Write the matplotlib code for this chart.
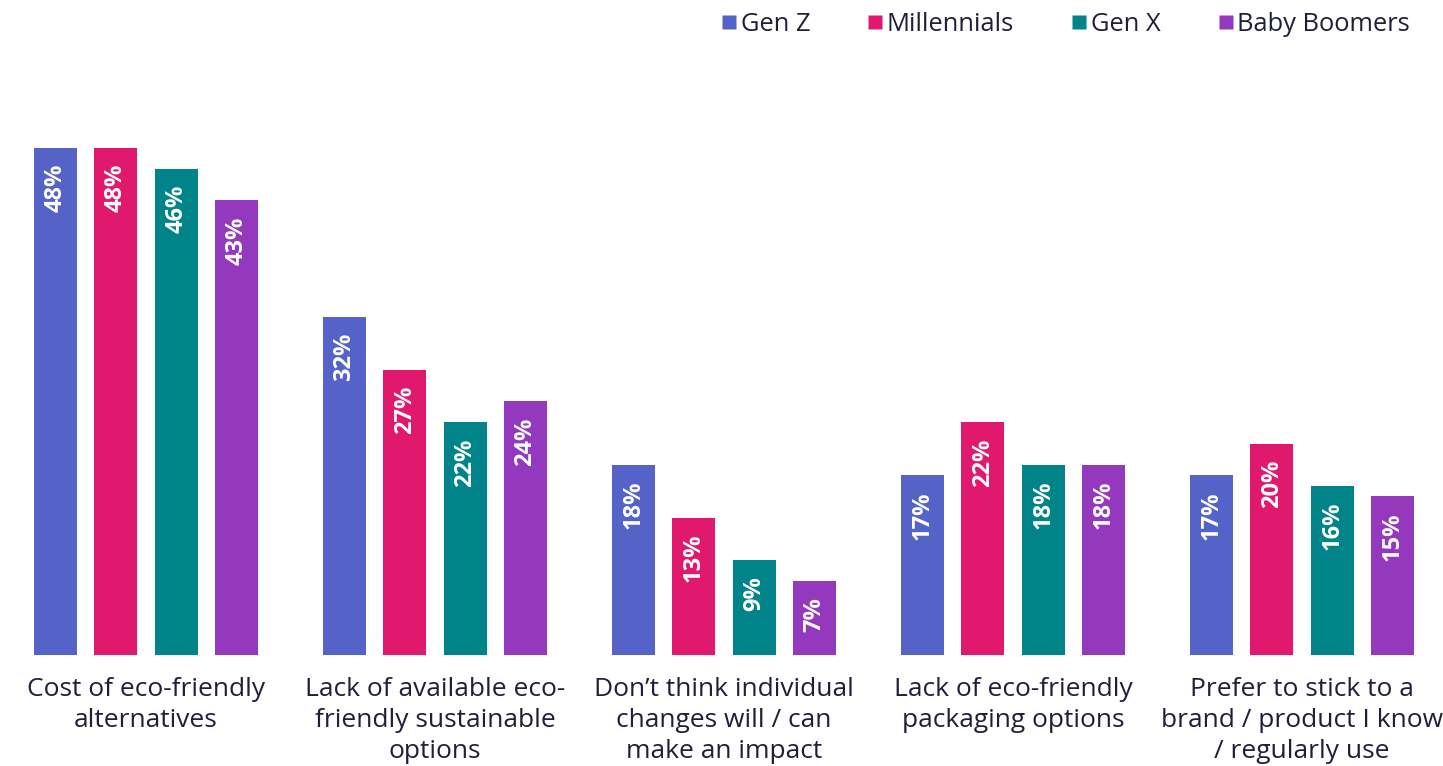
import matplotlib
matplotlib.use("Agg")
import matplotlib.pyplot as plt
from matplotlib.lines import Line2D
import numpy as np

categories = [
    "Cost of eco-friendly\nalternatives",
    "Lack of available eco-\nfriendly sustainable\noptions",
    "Don\u2019t think individual\nchanges will / can\nmake an impact",
    "Lack of eco-friendly\npackaging options",
    "Prefer to stick to a\nbrand / product I know\n/ regularly use",
]
series_names = ["Gen Z", "Millennials", "Gen X", "Baby Boomers"]
gen_z = [48, 32, 18, 17, 17]
millennials = [48, 27, 13, 22, 20]
gen_x = [46, 22, 9, 18, 16]
baby_boomers = [43, 24, 7, 18, 15]
colors = ["#5563C8", "#E0196E", "#00848A", "#9438BE"]

series = [gen_z, millennials, gen_x, baby_boomers]
text_color = "#1F1F3A"
font = "Open Sans"

W, H = 1443, 766
fig = plt.figure(figsize=(W / 100, H / 100), dpi=100)
ax = fig.add_axes([0, 111 / H, 1, 655 / H])

group_px = 289.0
step = 60.3 / group_px
width = 43.0 / group_px
x = np.arange(len(categories))

for j, (vals, col) in enumerate(zip(series, colors)):
    pos = x + (j - 1.5) * step
    bars = ax.bar(pos, vals, width=width, color=col, edgecolor="none")
    for b, v in zip(bars, vals):
        ax.text(b.get_x() + b.get_width() / 2, v - 1.5, f"{v}%",
                rotation=90, ha="center", va="top", color="white",
                fontsize=17, fontweight="bold", family=font)

ax.set_xlim(-146 / group_px, (W - 146) / group_px)
ax.set_ylim(0, 655 / 10.57)
ax.axis("off")

for i, cat in enumerate(categories):
    ax.text(i, -2.1, cat, ha="center", va="top", fontsize=19,
            color=text_color, family=font, linespacing=1.31)

handles = [Line2D([0], [0], marker="s", linestyle="none", markersize=10.5,
                  markerfacecolor=c, markeredgecolor="none") for c in colors]
fig.legend(handles, series_names, loc="upper right", ncol=4,
           bbox_to_anchor=(0.993, 1.014), frameon=False,
           prop={"family": font, "size": 18.4}, labelcolor=text_color,
           handletextpad=0.1, columnspacing=2.2, handlelength=0.7)

fig.savefig("out.png", dpi=100, facecolor="white")
